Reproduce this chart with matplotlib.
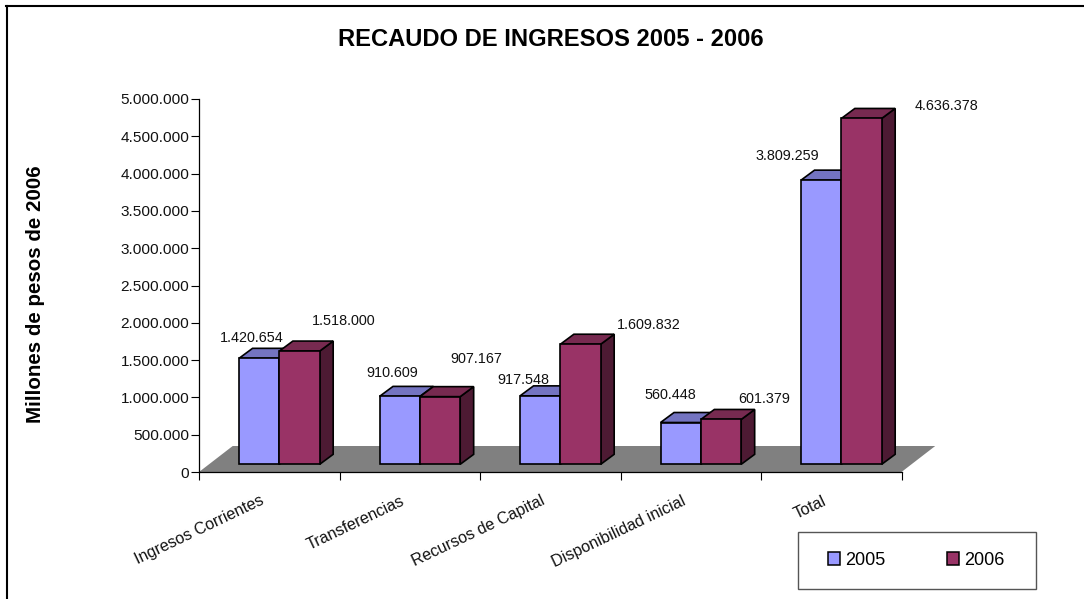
#!/usr/bin/env python3
import matplotlib
matplotlib.use('Agg')
from matplotlib import pyplot as plt
from matplotlib.patches import Polygon, Rectangle, Patch
from matplotlib.ticker import FuncFormatter

plt.rcParams['font.family'] = ['Liberation Sans', 'DejaVu Sans']

W, H = 1084, 599

categories = ['Ingresos Corrientes', 'Transferencias', 'Recursos de Capital',
              'Disponibilidad inicial', 'Total']
series_2005 = [1420654, 910609, 917548, 560448, 3809259]
series_2006 = [1518000, 907167, 1609832, 601379, 4636378]
years = ['2005', '2006']

# label offsets from the bar top, in pixels
offsets_2005 = [(-7, 20), (-7, 23), (-17, 16), (-10, 28), (-34, 24)]
offsets_2006 = [(44, 30), (36, 38), (68, 19), (43, 20), (85, 12)]

# front, top, side
colors_2005 = ('#9999ff', '#7474c1', '#4d4d80')
colors_2006 = ('#993366', '#772a50', '#4d1a33')

bar_start = 0.285
bar_width = 0.287
bar_dx, bar_dy = 0.096, 134000
floor_dx, floor_dy = 0.24, 348500
base = 103000


def box(ax, x, value, colors, z):
    top = base + value
    front = [(x, base), (x + bar_width, base), (x + bar_width, top), (x, top)]
    roof = [(x, top), (x + bar_width, top),
            (x + bar_width + bar_dx, top + bar_dy), (x + bar_dx, top + bar_dy)]
    side = [(x + bar_width, base), (x + bar_width + bar_dx, base + bar_dy),
            (x + bar_width + bar_dx, top + bar_dy), (x + bar_width, top)]
    for pts, c in ((side, colors[2]), (roof, colors[1]), (front, colors[0])):
        ax.add_patch(Polygon(pts, closed=True, facecolor=c, edgecolor='black',
                             linewidth=1.2, joinstyle='miter', clip_on=False, zorder=z))


fig = plt.figure(figsize=(W / 100, H / 100), dpi=100)
ax = fig.add_axes([199 / W, 1 - 472 / H, 702.5 / W, 373 / H])
ax.set_xlim(0, len(categories))
ax.set_ylim(0, 5000000)
ax.patch.set_alpha(0)

ax.add_patch(Polygon([(0, 0), (5, 0), (5 + floor_dx, floor_dy), (floor_dx, floor_dy)],
                     closed=True, facecolor='#808080', edgecolor='none',
                     clip_on=False, zorder=1))

for i, cat in enumerate(categories):
    x1 = i + bar_start
    x2 = x1 + bar_width
    box(ax, x1, series_2005[i], colors_2005, 3 + i * 2)
    box(ax, x2, series_2006[i], colors_2006, 4 + i * 2)
    ax.annotate(f'{series_2005[i]:,}'.replace(',', '.'),
                (x1 + bar_width / 2, base + series_2005[i]),
                xytext=offsets_2005[i], textcoords='offset pixels',
                ha='center', va='center', fontsize=10.4, color='#111111', zorder=30)
    ax.annotate(f'{series_2006[i]:,}'.replace(',', '.'),
                (x2 + bar_width / 2, base + series_2006[i]),
                xytext=offsets_2006[i], textcoords='offset pixels',
                ha='center', va='center', fontsize=10.4, color='#111111', zorder=30)
    ax.annotate(cat, (i + 0.5, 0), xytext=(-9, -21), textcoords='offset pixels',
                ha='right', va='top', rotation=25.5, rotation_mode='anchor',
                fontsize=11.6, color='#111111')

for s in ('top', 'right'):
    ax.spines[s].set_visible(False)
for s in ('left', 'bottom'):
    ax.spines[s].set_linewidth(0.9)
    ax.spines[s].set_zorder(2)

ax.set_xticks(range(len(categories) + 1))
ax.set_xticklabels([])
ax.set_yticks(range(0, 5000001, 500000))
ax.yaxis.set_major_formatter(FuncFormatter(lambda v, p: f'{int(v):,}'.replace(',', '.')))
ax.tick_params(axis='x', length=5.5, width=0.8, direction='out')
ax.tick_params(axis='y', length=5.5, width=0.8, direction='out', pad=1.5,
               labelsize=11.1, labelcolor='#111111')

fig.text(550.5 / W, 1 - 39.5 / H, 'RECAUDO DE INGRESOS 2005 - 2006', ha='center', va='center',
         fontsize=17.1, fontweight='bold')
fig.text(36 / W, 1 - 294 / H, 'Millones de pesos de 2006', ha='center', va='center',
         rotation=90, fontsize=14.8, fontweight='bold')

# outer frame only shows on the left and the top
fig.add_artist(plt.Line2D([7 / W, 7 / W], [0, 1 - 6 / H], color='black', linewidth=1.5))
fig.add_artist(plt.Line2D([6 / W, 1], [1 - 6 / H, 1 - 6 / H], color='black', linewidth=1.5))

fig.add_artist(Rectangle((797.5 / W, 1 - 589 / H), 238 / W, 57 / H, transform=fig.transFigure,
                         facecolor='white', edgecolor='#555555', linewidth=1))
handles = [Patch(facecolor=colors_2005[0], edgecolor='black', linewidth=1.1, label=years[0]),
           Patch(facecolor=colors_2006[0], edgecolor='black', linewidth=1.1, label=years[1])]
fig.legend(handles=handles, loc='center', bbox_to_anchor=(916 / W, 1 - 560.5 / H),
           ncol=2, frameon=False, fontsize=13, handlelength=0.7, handleheight=0.7,
           handletextpad=0.25, columnspacing=3.4, borderpad=0)

fig.savefig('out.png', dpi=100)
